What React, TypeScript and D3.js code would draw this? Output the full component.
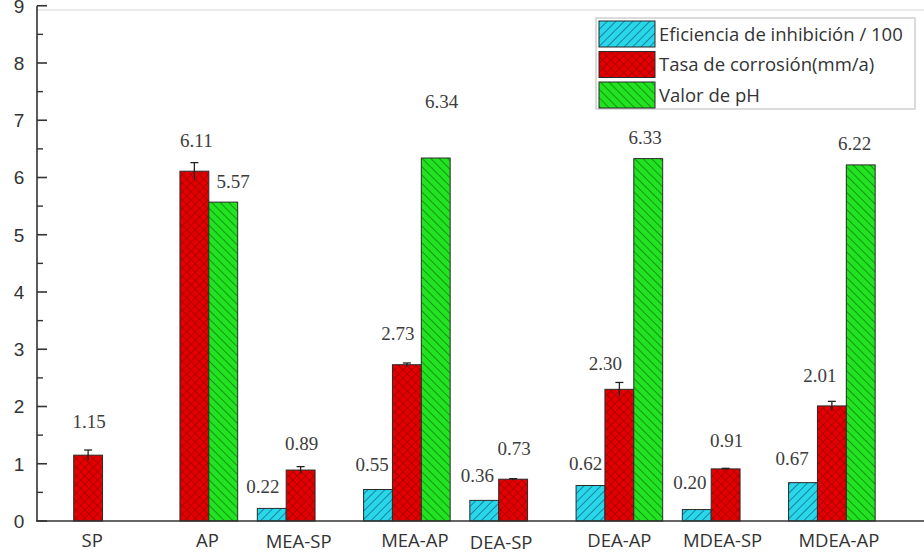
import React from "react";
import * as d3 from "d3";

const categories = ["SP", "AP", "MEA-SP", "MEA-AP", "DEA-SP", "DEA-AP", "MDEA-SP", "MDEA-AP"];
const seriesNames = ["Eficiencia de inhibición / 100", "Tasa de corrosión(mm/a)", "Valor de pH"];
const efficiency: (number | null)[] = [null, null, 0.22, 0.55, 0.36, 0.62, 0.20, 0.67];
const corrosion: (number | null)[] = [1.15, 6.11, 0.89, 2.73, 0.73, 2.30, 0.91, 2.01];
const corrosionErr: number[] = [0.09, 0.15, 0.06, 0.03, 0.01, 0.12, 0.01, 0.08];
const ph: (number | null)[] = [null, 5.57, null, 6.34, null, 6.33, null, 6.22];
const yTicks = [0, 1, 2, 3, 4, 5, 6, 7, 8, 9];

// label layout tweaks (px): [dx from bar centre, gap above bar top]
const effLabelOff: [number, number][] = [[0, 0], [0, 0], [-9, 15], [-6, 19], [-7, 18], [-5, 16], [-7, 21], [-11, 18]];
const corLabelOff: [number, number][] = [[1, 27], [2, 24], [1, 20], [-9, 25], [1, 24], [-14, 19], [1, 22], [-12, 24]];
const phLabelOff: [number, number][] = [[0, 0], [10, 14], [0, 0], [6, 50], [0, 0], [-3, 15], [0, 0], [-6, 15]];
const catLabelDx = [4, 13, -2, 8, -12, 0, -3, 7];
const catLabelDy = [0, 0, 1, 0, 1.5, 0, 0, 0];

const W = 924, H = 554;
const baseY = 521;

export default function App() {
  const x0 = d3.scaleBand<string>().domain(categories).range([35, 885]).paddingInner(0.185).paddingOuter(0.0925);
  const x1 = d3.scaleBand<number>().domain([0, 1, 2]).range([0, x0.bandwidth()]);
  const y = d3.scaleLinear().domain([0, 9]).range([baseY, baseY - 9 * 57.25]);
  const series = [efficiency, corrosion, ph];
  const fills = ["url(#pCyan)", "url(#pRed)", "url(#pGreen)"];
  const offs = [effLabelOff, corLabelOff, phLabelOff];
  const minor = d3.range(0.5, 9, 1);
  const labelColor = "#3d3d3d";

  return (
    <svg width={W} height={H} style={{ position: "absolute", left: 0, top: 0, background: "#fff" }}>
      <defs>
        <pattern id="pCyan" patternUnits="userSpaceOnUse" width={6} height={6} patternTransform="rotate(45)">
          <rect width={6} height={6} fill="#2ad6ea" />
          <line x1={0} y1={0} x2={0} y2={6} stroke="#12889a" strokeWidth={2} />
        </pattern>
        <pattern id="pGreen" patternUnits="userSpaceOnUse" width={6} height={6} patternTransform="rotate(-45)">
          <rect width={6} height={6} fill="#22e222" />
          <line x1={0} y1={0} x2={0} y2={6} stroke="#0f9a0f" strokeWidth={2} />
        </pattern>
        <pattern id="pRed" patternUnits="userSpaceOnUse" width={6} height={6} patternTransform="rotate(45)">
          <rect width={6} height={6} fill="#e20000" />
          <line x1={0} y1={0} x2={0} y2={6} stroke="#9a0000" strokeWidth={1.2} />
          <line x1={0} y1={0} x2={6} y2={0} stroke="#9a0000" strokeWidth={1.2} />
        </pattern>
      </defs>

      {/* faint top frame line */}
      <line x1={37} x2={W} y1={10} y2={10} stroke="#d8d8d8" strokeWidth={1} />

      {/* bars */}
      {series.map((vals, s) =>
        vals.map((v, i) => {
          if (v == null) return null;
          const bx = (x0(categories[i]) as number) + (x1(s) as number);
          return (
            <rect key={`b${s}-${i}`} x={bx} y={y(v)} width={x1.bandwidth()} height={baseY - y(v)}
              fill={fills[s]} stroke="#2a2a2a" strokeWidth={1} />
          );
        })
      )}

      {/* error bars */}
      {corrosion.map((v, i) => {
        if (v == null) return null;
        const cx = (x0(categories[i]) as number) + (x1(1) as number) + x1.bandwidth() / 2;
        const e = corrosionErr[i];
        return (
          <g key={`e${i}`} stroke="#222" strokeWidth={1.3}>
            <line x1={cx} x2={cx} y1={y(v - e)} y2={y(v + e)} />
            <line x1={cx - 4} x2={cx + 4} y1={y(v + e)} y2={y(v + e)} />
          </g>
        );
      })}

      {/* value labels */}
      {series.map((vals, s) =>
        vals.map((v, i) => {
          if (v == null) return null;
          const cx = (x0(categories[i]) as number) + (x1(s) as number) + x1.bandwidth() / 2;
          const [dx, dy] = offs[s][i];
          return (
            <text key={`l${s}-${i}`} x={cx + dx} y={y(v) - dy} textAnchor="middle"
              fontFamily="'Liberation Serif', 'Times New Roman', serif" fontSize={19} fill={labelColor}>
              {v.toFixed(2)}
            </text>
          );
        })
      )}

      {/* y axis */}
      <line x1={37} x2={37} y1={y(9)} y2={baseY} stroke="#333" strokeWidth={1.6} />
      {yTicks.map((t) => (
        <g key={`yt${t}`}>
          <line x1={37} x2={47} y1={y(t)} y2={y(t)} stroke="#333" strokeWidth={1.6} />
          <text x={19} y={y(t)} dy="0.36em" textAnchor="middle" fontFamily="'Liberation Sans', Arial, sans-serif"
            fontSize={19} fill="#333">{t}</text>
        </g>
      ))}
      {minor.map((t) => (
        <line key={`ym${t}`} x1={37} x2={43} y1={y(t)} y2={y(t)} stroke="#333" strokeWidth={1.4} />
      ))}

      {/* x axis */}
      <line x1={36} x2={W} y1={baseY} y2={baseY} stroke="#333" strokeWidth={1.6} />
      {categories.map((c, i) => (
        <text key={`xl${c}`} x={(x0(c) as number) + x0.bandwidth() / 2 + catLabelDx[i]} y={547 + catLabelDy[i]}
          textAnchor="middle" fontFamily="'Open Sans', sans-serif" fontSize={18.5} fill="#333">{c}</text>
      ))}

      {/* legend */}
      <rect x={596} y={18} width={319} height={91} fill="#fff" stroke="#cfcfcf" strokeWidth={1.5} />
      {seriesNames.map((n, s) => (
        <g key={`lg${s}`}>
          <rect x={599} y={21 + s * 30.5} width={56} height={26} fill={fills[s]} stroke="#2a2a2a" strokeWidth={1} />
          <text x={659} y={34 + s * 30.5} dy="0.36em" fontFamily="'Open Sans', sans-serif" fontSize={18.5} fill="#333">{n}</text>
        </g>
      ))}
    </svg>
  );
}
